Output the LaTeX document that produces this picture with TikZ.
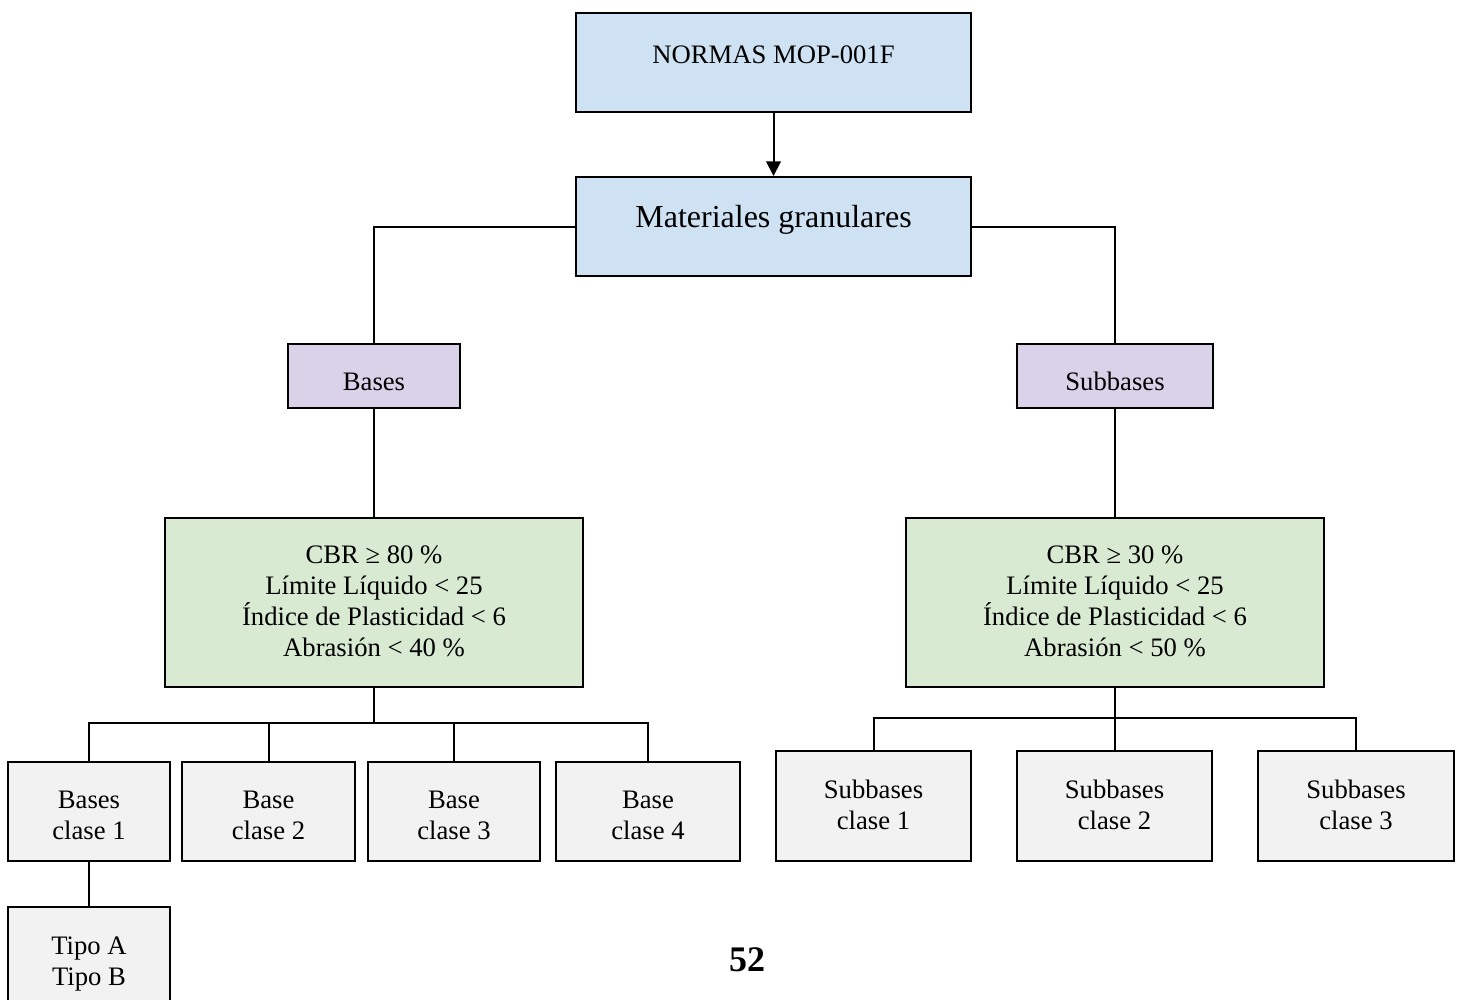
\documentclass[tikz,border=0pt]{standalone}
\usepackage{fontspec}
\setmainfont{Liberation Serif}
\usetikzlibrary{fit,arrows.meta}

\definecolor{topblue}{HTML}{CFE2F3}
\definecolor{lilac}{HTML}{D9D2E9}
\definecolor{mint}{HTML}{D9EAD3}
\definecolor{paper}{HTML}{F2F2F2}

\tikzset{
  box/.style={draw=black, line width=1.5pt, inner sep=0pt},
  bluebox/.style={box, fill=topblue},
  purplebox/.style={box, fill=lilac},
  greenbox/.style={box, fill=mint},
  greybox/.style={box, fill=paper},
  txt/.style={align=center, inner sep=0pt, font=\fontsize{20}{23.25}\selectfont},
  link/.style={line width=1.5pt},
}

\begin{document}
\begin{tikzpicture}[x=0.75pt, y=-0.75pt]
\clip (0,0) rectangle (1459,999);
\fill[white] (0,0) rectangle (1459,999);

% top level
\node[bluebox, fit={(576,13) (971,112)}] (norma) {};
\node[txt] (normaT) at (773.5,55) {NORMAS MOP-001F};
\node[bluebox, fit={(576,177) (971,276)}] (mat) {};
\node[txt, font=\fontsize{24}{28}\selectfont] (matT) at (773.5,220) {Materiales granulares};

% second level
\node[purplebox, fit={(288,344) (460,408)}] (bases) {};
\node[txt] (basesT) at (374,381.5) {Bases};
\node[purplebox, fit={(1017,344) (1213,408)}] (subb) {};
\node[txt] (subbT) at (1115,381) {Subbases};

% requirements
\node[greenbox, fit={(165,518) (583,687)}] (critB) {};
\node[txt] (critBT) at (374,601.5) {CBR ≥ 80 \%\\Límite Líquido < 25\\Índice de Plasticidad < 6\\Abrasión < 40 \%};
\node[greenbox, fit={(906,518) (1324,687)}] (critS) {};
\node[txt] (critST) at (1115,601.5) {CBR ≥ 30 \%\\Límite Líquido < 25\\Índice de Plasticidad < 6\\Abrasión < 50 \%};

% base classes
\node[greybox, fit={(8,762) (170,861)}] (b1) {};
\node[txt] (b1T) at (89,815) {Bases\\clase 1};
\node[greybox, fit={(182,762) (355,861)}] (b2) {};
\node[txt] (b2T) at (268.5,815) {Base\\clase 2};
\node[greybox, fit={(368,762) (540,861)}] (b3) {};
\node[txt] (b3T) at (454,815) {Base\\clase 3};
\node[greybox, fit={(556,762) (740,861)}] (b4) {};
\node[txt] (b4T) at (648,815) {Base\\clase 4};
\node[greybox, fit={(8,907) (170,1010)}] (tipo) {};
\node[txt] (tipoT) at (89,963.5) {Tipo A\\Tipo B};

% subbase classes
\node[greybox, fit={(776,751) (971,861)}] (s1) {};
\node[txt] (s1T) at (873.5,804.5) {Subbases\\clase 1};
\node[greybox, fit={(1017,751) (1212,861)}] (s2) {};
\node[txt] (s2T) at (1114.5,804.5) {Subbases\\clase 2};
\node[greybox, fit={(1258,751) (1454,861)}] (s3) {};
\node[txt] (s3T) at (1356,804.5) {Subbases\\clase 3};

% page number
\node[txt, font=\fontsize{27}{30}\selectfont\bfseries] (page) at (747,960) {52};

% connectors
\draw[link, -{Triangle[width=11pt,length=11pt]}] (norma.south) -- (mat.north);
\draw[link] (mat.west) -| (bases.north);
\draw[link] (mat.east) -| (subb.north);
\draw[link] (bases.south) -- (critB.north);
\draw[link] (subb.south) -- (critS.north);

\coordinate (busB) at (374,723);
\draw[link] (critB.south) -- (busB);
\draw[link] (b1.north) -- (b1.north |- busB) -- (b4.north |- busB) -- (b4.north);
\draw[link] (b2.north) -- (b2.north |- busB);
\draw[link] (b3.north) -- (b3.north |- busB);
\draw[link] (b1.south) -- (tipo.north);

\coordinate (busS) at (1115,718);
\draw[link] (critS.south) -- (busS);
\draw[link] (s1.north) -- (s1.north |- busS) -- (s3.north |- busS) -- (s3.north);
\draw[link] (s2.north) -- (s2.north |- busS);
\end{tikzpicture}
\end{document}
